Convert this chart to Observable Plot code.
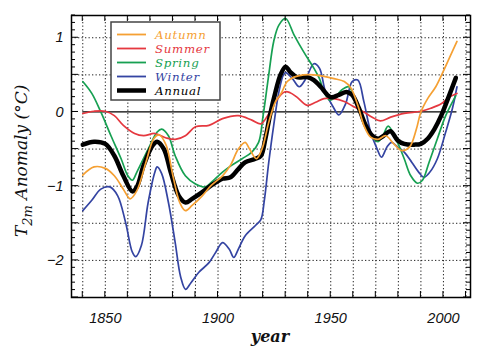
<!DOCTYPE html>
<html><head><meta charset="utf-8">
<script src="https://cdn.jsdelivr.net/npm/d3@7"></script>
<script src="https://cdn.jsdelivr.net/npm/@observablehq/plot@0.6"></script>
<style>body{margin:0;background:#fff}#chart{width:500px;height:352px}</style>
</head><body><div id="chart"></div>
<script>
const seriesNames = ["Autumn", "Summer", "Spring", "Winter", "Annual"];
const seriesColors = ["#f5a033", "#e5383f", "#17a052", "#3444a2", "#000000"];
const xTickLabels = [1850, 1900, 1950, 2000];
const yTickLabels = [1, 0, -1, -2];

const autumn = [[1840,-0.85],[1845,-0.74],[1850,-0.76],[1854,-0.86],[1858,-1.04],[1861,-1.17],[1864,-1.06],[1868,-0.68],[1871.5,-0.36],[1874,-0.31],[1877,-0.45],[1880,-0.86],[1883,-1.22],[1885.5,-1.33],[1888.5,-1.26],[1893,-1.13],[1897,-0.99],[1902,-0.86],[1905.5,-0.72],[1909,-0.5],[1912,-0.41],[1914,-0.5],[1917,-0.63],[1919.5,-0.5],[1922.5,-0.14],[1925.5,0.14],[1928,0.25],[1930.7,0.41],[1933.7,0.47],[1938,0.5],[1942.5,0.5],[1947,0.48],[1951.4,0.45],[1956,0.41],[1959,0.32],[1962,0.09],[1964.7,-0.18],[1967.7,-0.34],[1971,-0.37],[1974.4,-0.32],[1978,-0.43],[1981.5,-0.52],[1985,-0.47],[1988,-0.23],[1990,0],[1993,0.18],[1996.6,0.34],[1999.5,0.52],[2002.5,0.72],[2006,0.95]];
const summer = [[1840,-0.02],[1845,0.01],[1850,0.01],[1854,-0.05],[1858,-0.18],[1863,-0.29],[1867,-0.32],[1872,-0.29],[1877,-0.35],[1881,-0.37],[1885.5,-0.32],[1890,-0.2],[1896,-0.18],[1902,-0.09],[1909,-0.05],[1915,-0.11],[1919,-0.16],[1922,-0.05],[1925.5,0.14],[1929.5,0.27],[1932,0.26],[1935,0.2],[1939.6,0.09],[1943.3,0.13],[1947,0.18],[1951.4,0.18],[1956,0.14],[1960.3,0.07],[1964.7,0],[1968.4,-0.07],[1972,-0.12],[1976.6,-0.07],[1982.6,-0.02],[1990,0.01],[1994.4,0.05],[1999,0.11],[2002.5,0.2],[2006,0.25]];
const spring = [[1840,0.41],[1844,0.25],[1848,0],[1852.5,-0.32],[1857,-0.63],[1860,-0.86],[1862,-0.92],[1864,-0.81],[1869,-0.5],[1873,-0.27],[1875,-0.23],[1878,-0.32],[1881,-0.59],[1885.5,-0.86],[1890,-0.97],[1894.4,-1.01],[1897,-0.95],[1902,-0.81],[1906,-0.72],[1910.7,-0.63],[1915,-0.54],[1918,-0.41],[1920,-0.05],[1922.5,0.5],[1924.7,0.95],[1927,1.17],[1930,1.26],[1933.7,1.04],[1938,0.81],[1942.5,0.59],[1945,0.45],[1947,0.27],[1949.5,0.16],[1952,0.2],[1955,0.3],[1958,0.34],[1960.5,0.2],[1963,0],[1966,-0.23],[1969,-0.36],[1971,-0.4],[1973,-0.33],[1975.5,-0.19],[1979.6,-0.41],[1982.6,-0.63],[1985.5,-0.86],[1988.5,-0.96],[1990.7,-0.92],[1993.6,-0.68],[1997.3,-0.36],[2001,-0.05],[2005.5,0.22]];
const winter = [[1840,-1.33],[1844,-1.19],[1848,-1.04],[1852,-1.01],[1855.5,-1.13],[1859,-1.49],[1862,-1.89],[1863.5,-1.95],[1866,-1.8],[1869,-1.22],[1872,-0.81],[1873,-0.74],[1875,-0.83],[1878,-1.22],[1881,-1.76],[1883.4,-2.22],[1885.6,-2.39],[1888,-2.3],[1891.5,-2.16],[1896,-2.03],[1899,-1.89],[1902,-1.76],[1905,-1.85],[1907,-1.96],[1909,-1.85],[1912,-1.67],[1916.6,-1.53],[1919,-1.45],[1920.5,-1.2],[1922.5,-0.68],[1924.7,-0.18],[1927,0.27],[1929,0.5],[1930,0.53],[1933,0.45],[1936,0.34],[1939,0.45],[1942.5,0.65],[1945,0.59],[1947.7,0.27],[1951.4,0.05],[1953.6,-0.04],[1956.6,0.11],[1959.5,0.41],[1962,0.43],[1964.7,0.14],[1967.7,-0.27],[1970.6,-0.5],[1972.5,-0.61],[1975,-0.47],[1977,-0.41],[1979.6,-0.47],[1982.6,-0.54],[1986,-0.68],[1989,-0.81],[1991.4,-0.88],[1994,-0.81],[1997.3,-0.63],[2001,-0.27],[2004,0.05],[2006,0.34]];
const annual = [[1840,-0.44],[1845,-0.4],[1850,-0.43],[1854,-0.59],[1858,-0.86],[1862,-1.07],[1864,-1.01],[1867,-0.72],[1871,-0.45],[1873,-0.4],[1876,-0.5],[1879,-0.81],[1882.6,-1.13],[1885.6,-1.22],[1888.5,-1.17],[1893,-1.08],[1897,-0.99],[1902,-0.9],[1905.5,-0.88],[1909,-0.77],[1912,-0.68],[1916.6,-0.63],[1919,-0.59],[1921,-0.36],[1923,-0.05],[1925.5,0.27],[1927.7,0.5],[1930,0.61],[1932,0.54],[1935,0.47],[1939.6,0.47],[1942.5,0.43],[1945.5,0.34],[1950,0.2],[1953.6,0.23],[1957,0.27],[1959.5,0.23],[1962.5,0.05],[1965.5,-0.18],[1968.4,-0.32],[1971,-0.36],[1973,-0.33],[1976.5,-0.26],[1979.6,-0.38],[1982.6,-0.43],[1987,-0.44],[1990,-0.43],[1993,-0.36],[1996,-0.23],[1999,-0.05],[2002,0.18],[2005.5,0.46]];

const seriesData = {Autumn: autumn, Summer: summer, Spring: spring, Winter: winter, Annual: annual};
const rows = seriesNames.flatMap(s => seriesData[s].map(([year, value]) => ({season: s, year, value})));
const drawOrder = ["Winter", "Spring", "Summer", "Annual", "Autumn"];

const gridStyle = {stroke: "#222", strokeOpacity: 1, strokeWidth: 1, strokeDasharray: "1.3,2.2"};
const serif = "'DejaVu Serif', serif";
const sans = "'Liberation Sans', Arial, sans-serif";

const lineMarks = drawOrder.map(s => Plot.line(rows.filter(d => d.season === s), {
  x: "year", y: "value", stroke: "season",
  strokeWidth: s === "Annual" ? 4.5 : 1.7, curve: "catmull-rom"
}));

const chart = Plot.plot({
  width: 500, height: 352,
  marginLeft: 71, marginRight: 30, marginTop: 15, marginBottom: 55,
  x: {domain: [1835, 2012]},
  y: {domain: [-2.5, 1.3]},
  color: {domain: seriesNames, range: seriesColors},
  marks: [
    Plot.gridX(d3.range(1840, 2011, 10), gridStyle),
    Plot.gridY([-2, -1.5, -1, -0.5, 0.5, 1], gridStyle),
    Plot.ruleY([0], {x1: 1840, x2: 2006, stroke: "#000", strokeWidth: 1.2}),
    ...lineMarks,
    Plot.frame({stroke: "#000", strokeWidth: 1.5}),
    Plot.axisX(xTickLabels, {tickSize: 0, tickPadding: 15, tickFormat: "d", fontSize: 14.5, fontStyle: "italic", fontFamily: sans, fill: "#111", label: null}),
    Plot.axisY(yTickLabels, {tickSize: 0, tickPadding: 8, tickFormat: "d", fontSize: 14.5, fontStyle: "italic", fontFamily: sans, fill: "#111", label: null})
  ]
});
document.getElementById("chart").appendChild(chart);

const xs = chart.scale("x").apply, ys = chart.scale("y").apply;
const svg = d3.select(chart);
const tk = svg.append("g").attr("stroke", "#000").attr("stroke-width", 1);
const yB = ys(-2.5), yT = ys(1.3), xL = xs(1835), xR = xs(2012);
d3.range(1840, 2011, 10).forEach(v => {
  tk.append("line").attr("x1", xs(v)).attr("x2", xs(v)).attr("y1", yB).attr("y2", yB - 6);
  tk.append("line").attr("x1", xs(v)).attr("x2", xs(v)).attr("y1", yT).attr("y2", yT + 6);
});
d3.range(-25, 14, 1).forEach(i => {
  const v = i / 10, len = i % 5 === 0 ? 7 : 4;
  tk.append("line").attr("x1", xL).attr("x2", xL + len).attr("y1", ys(v)).attr("y2", ys(v));
  tk.append("line").attr("x1", xR).attr("x2", xR - len).attr("y1", ys(v)).attr("y2", ys(v));
});

// legend
const lg = svg.append("g").attr("text-anchor", "start");
lg.append("rect").attr("x", 111).attr("y", 22).attr("width", 109).attr("height", 78)
  .attr("fill", "#fff").attr("stroke", "#444").attr("stroke-width", 1.5);
seriesNames.forEach((s, i) => {
  const yy = 34.5 + i * 14;
  lg.append("line").attr("x1", 117).attr("x2", 146).attr("y1", yy).attr("y2", yy)
    .attr("stroke", seriesColors[i]).attr("stroke-width", s === "Annual" ? 4.5 : 1.8);
  lg.append("text").attr("x", 155).attr("y", yy + 4).text(s)
    .attr("fill", seriesColors[i]).attr("font-family", serif).attr("font-style", "italic")
    .attr("font-size", 11.8).attr("letter-spacing", 0.7);
});

// y label
const yl = svg.append("text").attr("text-anchor", "start").attr("transform", "translate(27,237) rotate(-90)")
  .attr("font-family", serif).attr("font-style", "italic").attr("font-size", 17).attr("fill", "#111");
yl.append("tspan").text("T");
yl.append("tspan").attr("dy", 5).attr("font-size", 13).text("2m");
yl.append("tspan").attr("dy", -5).text(" Anomaly (°C)");

// x label
svg.append("text").attr("x", 270).attr("y", 342).attr("text-anchor", "middle")
  .attr("font-family", serif).attr("font-style", "italic").attr("font-weight", "bold")
  .attr("font-size", 16).attr("fill", "#111").text("year");
</script></body></html>
